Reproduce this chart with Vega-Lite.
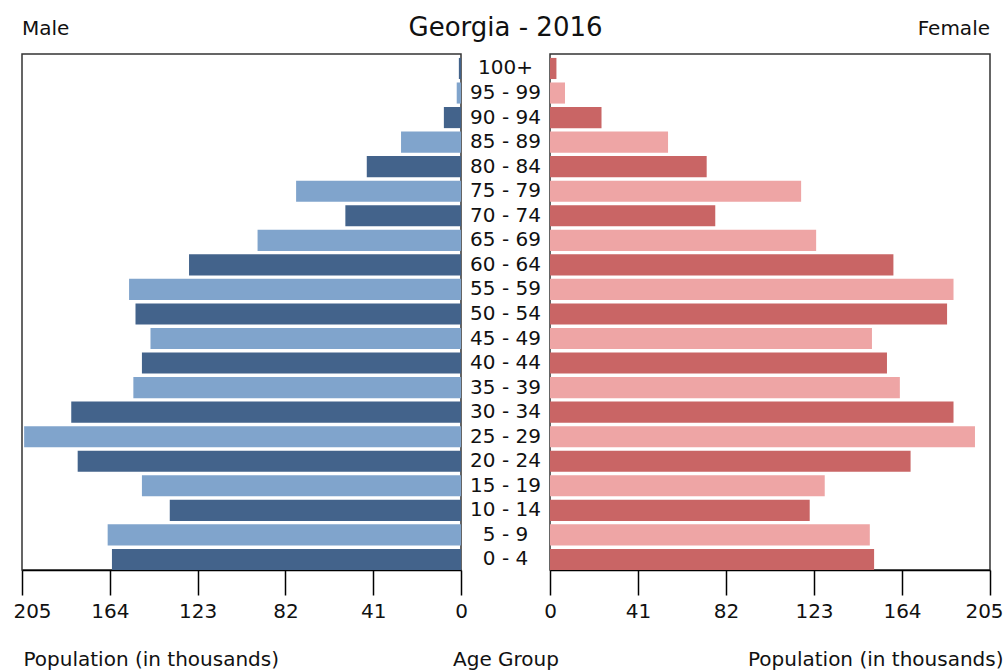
{
  "$schema": "https://vega.github.io/schema/vega-lite/v6.json",
  "padding": {"left": 12, "top": 15, "right": 2, "bottom": 2},
  "background": "white",
  "spacing": 0,
  "bounds": "flush",
  "config": {
    "font": "DejaVu Sans",
    "view": {"stroke": "#333", "strokeWidth": 1.5},
    "axis": {
      "labelFont": "DejaVu Sans", "labelFontSize": 20, "labelColor": "#111",
      "titleFont": "DejaVu Sans", "titleFontSize": 20, "titleFontWeight": "normal", "titleColor": "#111",
      "tickColor": "#000", "tickWidth": 1.5, "tickSize": 25, "domainColor": "#000", "domainWidth": 1.5,
      "grid": false, "labelPadding": 6, "labelFlush": false, "titleBaseline": "alphabetic", "titleY": 95
    },
    "title": {"font": "DejaVu Sans", "fontWeight": "normal", "color": "#111", "baseline": "alphabetic", "offset": 15, "frame": "group"}
  },
  "datasets": {
    "pop": [
      {"age": "100+", "sex": "Male", "pop": 1, "s": "a"},
      {"age": "95 - 99", "sex": "Male", "pop": 2, "s": "b"},
      {"age": "90 - 94", "sex": "Male", "pop": 8, "s": "a"},
      {"age": "85 - 89", "sex": "Male", "pop": 28, "s": "b"},
      {"age": "80 - 84", "sex": "Male", "pop": 44, "s": "a"},
      {"age": "75 - 79", "sex": "Male", "pop": 77, "s": "b"},
      {"age": "70 - 74", "sex": "Male", "pop": 54, "s": "a"},
      {"age": "65 - 69", "sex": "Male", "pop": 95, "s": "b"},
      {"age": "60 - 64", "sex": "Male", "pop": 127, "s": "a"},
      {"age": "55 - 59", "sex": "Male", "pop": 155, "s": "b"},
      {"age": "50 - 54", "sex": "Male", "pop": 152, "s": "a"},
      {"age": "45 - 49", "sex": "Male", "pop": 145, "s": "b"},
      {"age": "40 - 44", "sex": "Male", "pop": 149, "s": "a"},
      {"age": "35 - 39", "sex": "Male", "pop": 153, "s": "b"},
      {"age": "30 - 34", "sex": "Male", "pop": 182, "s": "a"},
      {"age": "25 - 29", "sex": "Male", "pop": 204, "s": "b"},
      {"age": "20 - 24", "sex": "Male", "pop": 179, "s": "a"},
      {"age": "15 - 19", "sex": "Male", "pop": 149, "s": "b"},
      {"age": "10 - 14", "sex": "Male", "pop": 136, "s": "a"},
      {"age": "5 - 9", "sex": "Male", "pop": 165, "s": "b"},
      {"age": "0 - 4", "sex": "Male", "pop": 163, "s": "a"},
      {"age": "100+", "sex": "Female", "pop": 3, "s": "a"},
      {"age": "95 - 99", "sex": "Female", "pop": 7, "s": "b"},
      {"age": "90 - 94", "sex": "Female", "pop": 24, "s": "a"},
      {"age": "85 - 89", "sex": "Female", "pop": 55, "s": "b"},
      {"age": "80 - 84", "sex": "Female", "pop": 73, "s": "a"},
      {"age": "75 - 79", "sex": "Female", "pop": 117, "s": "b"},
      {"age": "70 - 74", "sex": "Female", "pop": 77, "s": "a"},
      {"age": "65 - 69", "sex": "Female", "pop": 124, "s": "b"},
      {"age": "60 - 64", "sex": "Female", "pop": 160, "s": "a"},
      {"age": "55 - 59", "sex": "Female", "pop": 188, "s": "b"},
      {"age": "50 - 54", "sex": "Female", "pop": 185, "s": "a"},
      {"age": "45 - 49", "sex": "Female", "pop": 150, "s": "b"},
      {"age": "40 - 44", "sex": "Female", "pop": 157, "s": "a"},
      {"age": "35 - 39", "sex": "Female", "pop": 163, "s": "b"},
      {"age": "30 - 34", "sex": "Female", "pop": 188, "s": "a"},
      {"age": "25 - 29", "sex": "Female", "pop": 198, "s": "b"},
      {"age": "20 - 24", "sex": "Female", "pop": 168, "s": "a"},
      {"age": "15 - 19", "sex": "Female", "pop": 128, "s": "b"},
      {"age": "10 - 14", "sex": "Female", "pop": 121, "s": "a"},
      {"age": "5 - 9", "sex": "Female", "pop": 149, "s": "b"},
      {"age": "0 - 4", "sex": "Female", "pop": 151, "s": "a"}
    ]
  },
  "data": {"name": "pop"},
  "resolve": {"scale": {"color": "independent", "y": "shared"}},
  "hconcat": [
    {
      "width": 439, "height": 516,
      "title": {"text": "Male", "anchor": "start", "fontSize": 20},
      "transform": [{"filter": "datum.sex == 'Male'"}],
      "mark": {"type": "bar"},
      "encoding": {
        "y": {"field": "age", "type": "nominal", "sort": null,
              "scale": {"paddingInner": 0.14, "paddingOuter": 0.08, "align": 1}, "axis": null},
        "x": {"field": "pop", "type": "quantitative",
              "scale": {"domain": [0, 205], "reverse": true, "nice": false},
              "axis": {"values": [0, 41, 82, 123, 164, 205], "format": "d", "title": "Population (in thousands)",
                       "titleAlign": "left", "titleX": 1,
                       "labelOffset": {"condition": {"test": "datum.value == 205", "value": 10}, "value": 0}}},
        "color": {"field": "s", "type": "nominal", "scale": {"domain": ["a", "b"], "range": ["#43638b", "#80a4cc"]}, "legend": null}
      }
    },
    {
      "width": 89, "height": 516,
      "view": {"stroke": null},
      "title": {"text": "Georgia - 2016", "anchor": "middle", "fontSize": 26, "offset": 13},
      "transform": [{"filter": "datum.sex == 'Male'"}],
      "mark": {"type": "text", "fontSize": 20, "color": "#111", "baseline": "middle", "align": "center"},
      "encoding": {
        "y": {"field": "age", "type": "nominal", "sort": null, "axis": null},
        "x": {"datum": 0, "type": "quantitative", "scale": {"domain": [-1, 1]},
              "axis": {"title": "Age Group", "domain": false, "ticks": false, "labels": false}},
        "text": {"field": "age"}
      }
    },
    {
      "width": 440, "height": 516,
      "title": {"text": "Female", "anchor": "end", "fontSize": 20},
      "transform": [{"filter": "datum.sex == 'Female'"}],
      "mark": {"type": "bar"},
      "encoding": {
        "y": {"field": "age", "type": "nominal", "sort": null, "axis": null},
        "x": {"field": "pop", "type": "quantitative",
              "scale": {"domain": [0, 205], "nice": false},
              "axis": {"values": [0, 41, 82, 123, 164, 205], "format": "d", "title": "Population (in thousands)",
                       "titleAlign": "right", "titleX": 453,
                       "labelOffset": {"condition": {"test": "datum.value == 205", "value": -6}, "value": 0}}},
        "color": {"field": "s", "type": "nominal", "scale": {"domain": ["a", "b"], "range": ["#c96565", "#eea5a5"]}, "legend": null}
      }
    }
  ]
}
